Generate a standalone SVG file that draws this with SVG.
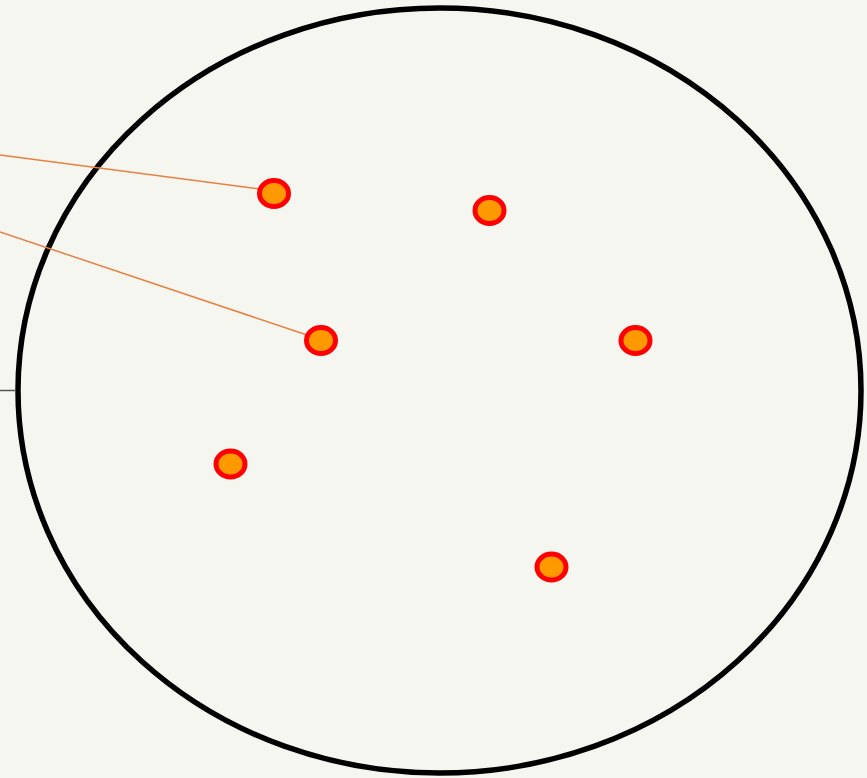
<svg xmlns="http://www.w3.org/2000/svg" width="867" height="778" viewBox="0 0 867 778">
<style>
.bg{fill:#f6f6f1}
.outer{fill:#f6f6f1;stroke:#000;stroke-width:5.5}
.pt{fill:#ff9900;stroke:#ff0000;stroke-width:5}
.lnk{stroke:#e8803f;stroke-width:1.5;fill:none}
.ax{stroke:#555;stroke-width:1.5;fill:none}
</style>
<rect class="bg" x="0" y="0" width="867" height="778"/>
<g id="container">
<ellipse class="outer" cx="439.5" cy="390.5" rx="421.5" ry="382.5"/>
</g>
<g id="connectors">
<line class="lnk" x1="0" y1="155" x2="260" y2="189"/>
<line class="lnk" x1="0" y1="232" x2="307" y2="335"/>
<line class="ax" x1="0" y1="390.5" x2="16" y2="390.5"/>
</g>
<g id="n1"><ellipse class="pt" cx="274" cy="193.5" rx="14.5" ry="13"/></g>
<g id="n2"><ellipse class="pt" cx="321" cy="340.5" rx="14.5" ry="13"/></g>
<g id="n3"><ellipse class="pt" cx="489.5" cy="210.5" rx="14.5" ry="13"/></g>
<g id="n4"><ellipse class="pt" cx="635.5" cy="340.5" rx="14.5" ry="13"/></g>
<g id="n5"><ellipse class="pt" cx="230.5" cy="464" rx="14.5" ry="13"/></g>
<g id="n6"><ellipse class="pt" cx="551.5" cy="567" rx="14.5" ry="13"/></g>
</svg>
